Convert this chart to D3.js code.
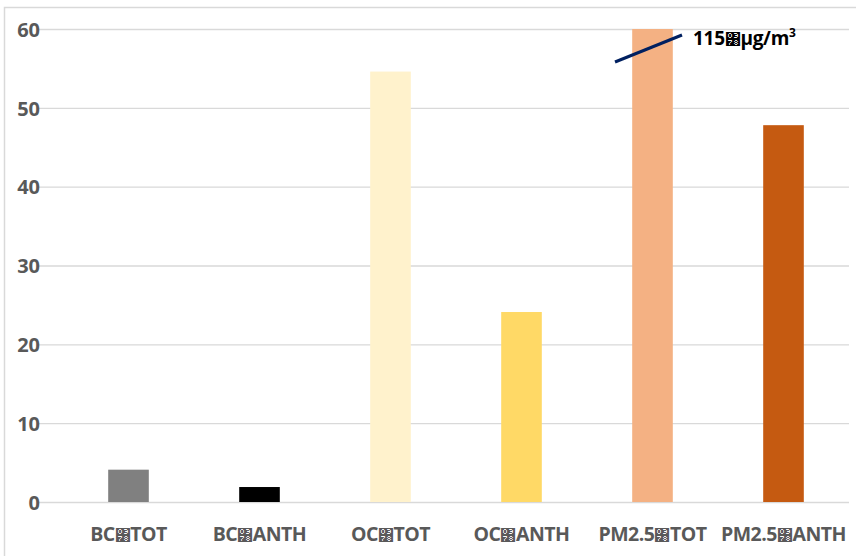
<!DOCTYPE html>
<html><head><meta charset="utf-8">
<script src="https://cdn.jsdelivr.net/npm/d3@7"></script>
<style>
html,body{margin:0;padding:0;background:#fff;}
svg{display:block;}
text{font-family:"Open Sans","Liberation Sans",sans-serif;}
.tofu{font-family:"DejaVu Sans";font-weight:normal;}
</style></head>
<body>
<script>
const SEP = "\u0378";
const categories = ["BC"+SEP+"TOT","BC"+SEP+"ANTH","OC"+SEP+"TOT","OC"+SEP+"ANTH","PM2.5"+SEP+"TOT","PM2.5"+SEP+"ANTH"];
const values = [4.1, 1.9, 54.6, 24.1, 115, 47.8];
const colors = ["#808080","#000000","#FFF2CC","#FFD966","#F4B183","#C55A11"];
const yTicks = [0,10,20,30,40,50,60];
const annotation = ["115", SEP, "µg/m", "3"];

const W=856,H=556;
const svg=d3.select("body").append("svg").attr("width",W).attr("height",H);
svg.append("rect").attr("x",4.5).attr("y",7.5).attr("width",W).attr("height",H).attr("fill","#fff").attr("stroke","#d9d9d9").attr("stroke-width",1.5);

const x=d3.scaleBand().domain(categories).range([63,849]).paddingInner(0.69).paddingOuter(0.345);
const y=d3.scaleLinear().domain([0,60]).range([502,29]).clamp(true);

svg.append("g").selectAll("line").data(yTicks).join("line")
 .attr("x1",38).attr("x2",849).attr("y1",d=>y(d)+0.5).attr("y2",d=>y(d)+0.5)
 .attr("stroke","#d9d9d9").attr("stroke-width",1.3);

const yAxis=d3.axisLeft(y).tickValues(yTicks).tickSize(0).tickPadding(0);
const ya=svg.append("g").attr("transform","translate(40,0)").call(yAxis);
ya.select(".domain").remove();
ya.selectAll("text").attr("font-size",20).attr("font-weight","bold").attr("fill","#595959")
 .attr("font-family","'Open Sans',sans-serif").attr("dy","0.36em");

svg.selectAll(".bar").data(values).join("rect")
 .attr("x",(d,i)=>x(categories[i]))
 .attr("width",x.bandwidth())
 .attr("y",d=>y(d))
 .attr("height",d=>y(0)-y(d))
 .attr("fill",(d,i)=>colors[i]);

const xAxis=d3.axisBottom(x).tickSize(0).tickPadding(0);
const xa=svg.append("g").attr("transform","translate(0,541)").call(xAxis);
xa.select(".domain").remove();
xa.selectAll("text").each(function(d){
  const parts=d.split(SEP);
  const t=d3.select(this).text(null).attr("font-size",19.5).attr("font-weight","bold").attr("fill","#595959")
   .attr("font-family","'Open Sans',sans-serif").attr("dy",0).attr("letter-spacing","-0.5");
  t.append("tspan").text(parts[0]);
  t.append("tspan").attr("class","tofu").attr("font-size",16).text(SEP);
  t.append("tspan").text(parts[1]);
});

// annotation
svg.append("line").attr("x1",615).attr("y1",62).attr("x2",682).attr("y2",35)
 .attr("stroke","#002060").attr("stroke-width",3);
const t=svg.append("text").attr("x",693).attr("y",45).attr("font-size",19).attr("font-weight","bold").attr("fill","#000").attr("letter-spacing","-0.3");
t.append("tspan").text(annotation[0]);
t.append("tspan").attr("class","tofu").attr("font-size",16).text(annotation[1]);
t.append("tspan").text(annotation[2]);
t.append("tspan").text(annotation[3]).attr("font-size",12).attr("dy",-8);
</script>
</body></html>
